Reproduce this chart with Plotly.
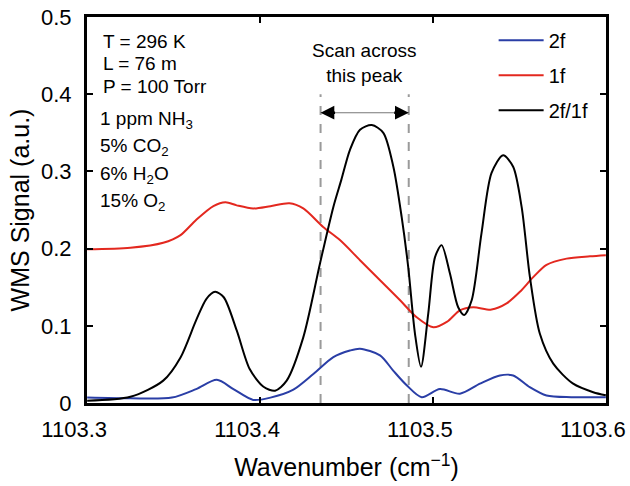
import plotly.graph_objects as go

# ---- data ----
x_2f1f = [1103.300, 1103.325, 1103.344, 1103.354, 1103.363, 1103.369, 1103.374, 1103.379,
          1103.3865, 1103.394, 1103.402, 1103.4087, 1103.4154, 1103.425, 1103.4347, 1103.4424,
          1103.447, 1103.452, 1103.4578, 1103.4646, 1103.4713, 1103.4771, 1103.4819, 1103.4857,
          1103.4896, 1103.4931, 1103.4973, 1103.5012, 1103.505, 1103.5098, 1103.5146, 1103.5181,
          1103.5224, 1103.5281, 1103.5339, 1103.5406, 1103.5464, 1103.5513, 1103.5561, 1103.5618,
          1103.5696, 1103.5811, 1103.5927, 1103.600]
y_2f1f = [0.003, 0.008, 0.029, 0.059, 0.107, 0.135, 0.144, 0.137,
          0.094, 0.044, 0.021, 0.016, 0.029, 0.085, 0.181, 0.254,
          0.289, 0.328, 0.354, 0.360, 0.350, 0.306, 0.241, 0.176,
          0.090, 0.047, 0.116, 0.189, 0.2045, 0.168, 0.124, 0.114,
          0.133, 0.220, 0.298, 0.321, 0.306, 0.254, 0.163, 0.090,
          0.051, 0.025, 0.014, 0.010]

x_1f = [1103.300, 1103.325, 1103.344, 1103.354, 1103.363, 1103.373, 1103.380, 1103.3865,
        1103.396, 1103.406, 1103.417, 1103.425, 1103.4365, 1103.4462, 1103.4578, 1103.4694,
        1103.481, 1103.4906, 1103.5002, 1103.508, 1103.5156, 1103.5233, 1103.5339, 1103.5426,
        1103.5503, 1103.558, 1103.5657, 1103.5773, 1103.5908, 1103.600]
y_1f = [0.199, 0.201, 0.2075, 0.2175, 0.237, 0.255, 0.260, 0.256,
        0.252, 0.255, 0.2587, 0.252, 0.228, 0.211, 0.185, 0.159,
        0.133, 0.111, 0.098, 0.105, 0.120, 0.124, 0.121, 0.129,
        0.144, 0.163, 0.179, 0.187, 0.190, 0.1915]

x_2f = [1103.300, 1103.325, 1103.349, 1103.363, 1103.375, 1103.3846, 1103.396, 1103.406,
        1103.419, 1103.431, 1103.4424, 1103.452, 1103.4578, 1103.4694, 1103.477, 1103.4848,
        1103.4935, 1103.504, 1103.5156, 1103.5272, 1103.5387, 1103.5464, 1103.556, 1103.5657,
        1103.580, 1103.600]
y_2f = [0.007, 0.006, 0.007, 0.018, 0.030, 0.018, 0.004, 0.007,
        0.017, 0.038, 0.0595, 0.068, 0.0704, 0.0617, 0.042, 0.023,
        0.0075, 0.018, 0.012, 0.025, 0.0357, 0.0357, 0.0205, 0.0097,
        0.0075, 0.0075]

scan_bounds = [1103.435, 1103.486]
scan_top = 0.40
arrow_y = 0.376

x_ticks = [1103.3, 1103.4, 1103.5, 1103.6]
y_ticks = [0, 0.1, 0.2, 0.3, 0.4, 0.5]

conditions = ["T = 296 K", "L = 76 m", "P = 100 Torr"]
cond_y = [0.468, 0.440, 0.410]
gases = ["1 ppm NH<sub>3</sub>", "5% CO<sub>2</sub>", "6% H<sub>2</sub>O", "15% O<sub>2</sub>"]
gas_y = [0.367, 0.331, 0.295, 0.260]

FONT = "Liberation Sans, Arial, Helvetica, sans-serif"

fig = go.Figure()
fig.add_trace(go.Scatter(x=x_2f, y=y_2f, name="2f", mode="lines", legendgroup="a",
                         line=dict(color="#2a3ea6", width=2, shape="spline", smoothing=0.8)))
fig.add_trace(go.Scatter(x=x_1f, y=y_1f, name="1f", mode="lines", legendgroup="b",
                         line=dict(color="#e3281f", width=2, shape="spline", smoothing=0.8)))
fig.add_trace(go.Scatter(x=x_2f1f, y=y_2f1f, name="2f/1f", mode="lines", legendgroup="c",
                         line=dict(color="black", width=2, shape="spline", smoothing=0.8)))

for xb in scan_bounds:
    fig.add_shape(type="line", x0=xb, x1=xb, y0=0, y1=scan_top, xref="x", yref="y",
                  line=dict(color="#9a9a9a", width=2, dash="dash"), layer="below")

# gray shaft + black heads
fig.add_shape(type="line", x0=scan_bounds[0], x1=scan_bounds[1], y0=arrow_y, y1=arrow_y,
              xref="x", yref="y", line=dict(color="#777777", width=1.2))
fig.add_annotation(x=scan_bounds[1], y=arrow_y, xref="x", yref="y", ax=-16, ay=0,
                   text="", showarrow=True, arrowhead=2, arrowsize=1.1, arrowwidth=2.5,
                   arrowcolor="black")
fig.add_annotation(x=scan_bounds[0], y=arrow_y, xref="x", yref="y", ax=16, ay=0,
                   text="", showarrow=True, arrowhead=2, arrowsize=1.1, arrowwidth=2.5,
                   arrowcolor="black")
fig.add_annotation(x=sum(scan_bounds) / 2, y=0.408, xref="x", yref="y",
                   text="Scan across<br>this peak", showarrow=False,
                   font=dict(size=19, color="black", family=FONT), yanchor="bottom")

for t, yy in zip(conditions, cond_y):
    fig.add_annotation(x=0.027, y=yy, xref="paper", yref="y", text=t, showarrow=False,
                       xanchor="left", font=dict(size=19, color="black", family=FONT))
for t, yy in zip(gases, gas_y):
    fig.add_annotation(x=0.021, y=yy, xref="paper", yref="y", text=t, showarrow=False,
                       xanchor="left", font=dict(size=19, color="black", family=FONT))

axis_common = dict(showline=True, linecolor="black", linewidth=3, mirror="ticks",
                   ticks="inside", ticklen=6, tickwidth=2, tickcolor="black",
                   showgrid=False, zeroline=False, automargin=False,
                   ticklabeloverflow="allow",
                   tickfont=dict(size=22, color="black", family=FONT))

fig.update_xaxes(range=[1103.2999, 1103.6001], tickvals=x_ticks,
                 ticktext=[f"{v:.1f}" for v in x_ticks], ticklabelstandoff=5,
                 ticklabelshift=-13,
                 title=dict(text="Wavenumber (cm<sup>−1</sup>)", standoff=18,
                            font=dict(size=25, color="black", family=FONT)),
                 **axis_common)
fig.update_yaxes(range=[0, 0.5], tickvals=y_ticks,
                 ticktext=["0", "0.1", "0.2", "0.3", "0.4", "0.5"], ticklabelstandoff=8,
                 title=dict(text="WMS Signal (a.u.)", standoff=5,
                            font=dict(size=25, color="black", family=FONT)),
                 **axis_common)

fig.update_layout(
    width=630, height=486,
    margin=dict(l=87, r=24, t=17, b=83),
    plot_bgcolor="white", paper_bgcolor="white",
    font=dict(family=FONT, color="black"),
    showlegend=True,
    legend=dict(x=0.7835, y=0.99, xanchor="left", yanchor="top",
                bgcolor="rgba(0,0,0,0)", font=dict(size=20, color="black", family=FONT),
                itemwidth=45, tracegroupgap=6),
)

fig.write_html("out.html", config={"displayModeBar": False},
               post_script="document.body.style.margin='0px';")
